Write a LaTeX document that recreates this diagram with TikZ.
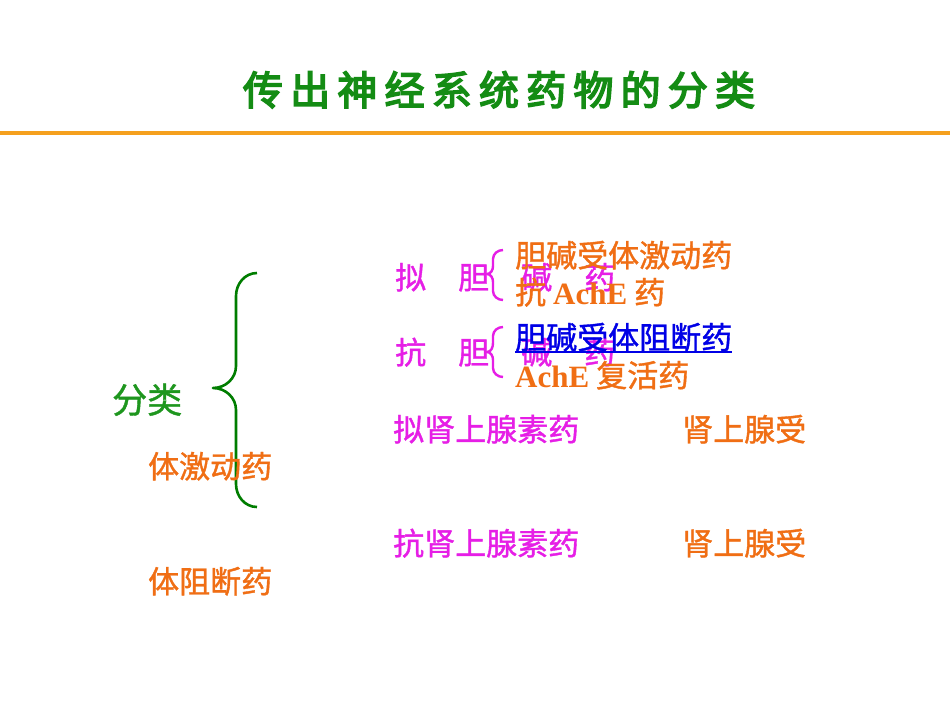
\documentclass[tikz,border=0pt]{standalone}
\usepackage{fontspec}
\setmainfont{Liberation Serif}
\newfontfamily\cjk{Noto Sans CJK SC}[FakeBold=1.2]
\newfontfamily\cjktitle{Noto Sans CJK SC}[FakeBold=4]
\definecolor{mag}{RGB}{230,30,230}
\definecolor{org}{RGB}{240,110,20}
\definecolor{rule}{RGB}{245,160,30}
\definecolor{ttl}{RGB}{20,140,20}
\definecolor{grn}{RGB}{30,150,30}
\definecolor{brc}{RGB}{0,125,0}
\definecolor{lnk}{RGB}{0,0,230}
\tikzset{
  txt/.style={inner sep=0pt, anchor=base west, font=\fontsize{31}{31}\selectfont\cjk},
  magtxt/.style={txt, text=mag},
  orgtxt/.style={txt, text=org},
  lnktxt/.style={txt, text=lnk},
  ttlchar/.style={inner sep=0pt, anchor=base, text=ttl, font=\fontsize{40}{40}\selectfont\cjktitle},
  bigbrace/.style={draw=brc, line width=2.6pt, line join=round},
  smallbrace/.style={draw=mag, line width=2.4pt, line join=round}
}
\begin{document}
\begin{tikzpicture}[x=1pt,y=-1pt]
\useasboundingbox[fill=white] (0,0) rectangle (950,713);
% title
\foreach \c [count=\i from 0] in {传,出,神,经,系,统,药,物,的,分,类}{
  \node[ttlchar] (t\i) at (263+47.2*\i,105) {\c};
}
\draw[draw=rule, line width=4pt] (0,133) -- (950,133);
% left
\node[txt, text=grn, font=\fontsize{35}{35}\selectfont\cjk] (fenlei) at (112,413) {分类};
\draw[bigbrace] (257,273) to[out=180,in=90] (236,296) -- (236,366) to[out=-90,in=0] (213,388)
  to[out=0,in=90] (236,410) -- (236,484) to[out=-90,in=180] (257,507);
% magenta spaced rows
\node[magtxt] (m1) at (395,289) {拟\hspace{32pt}胆\hspace{32pt}碱\hspace{32pt}药};
\node[magtxt] (m2) at (395,364) {抗\hspace{32pt}胆\hspace{32pt}碱\hspace{32pt}药};
\draw[smallbrace] (503,250) to[out=180,in=90] (493,259) -- (493,266) to[out=-90,in=0] (487,274)
  to[out=0,in=90] (493,282) -- (493,291) to[out=-90,in=180] (503,300);
\draw[smallbrace] (503,327) to[out=180,in=90] (493,336) -- (493,343) to[out=-90,in=0] (487,352)
  to[out=0,in=90] (493,360) -- (493,368) to[out=-90,in=180] (503,377);
% orange / blue sub items
\node[orgtxt] (o1) at (515,267) {胆碱受体激动药};
\node[orgtxt] (o2) at (515,304) {抗 {\rmfamily\bfseries AchE} 药};
\node[lnktxt] (b1) at (515,349) {胆碱受体阻断药};
\draw[draw=lnk, line width=1.6pt] ([yshift=-3pt]b1.base west) -- ([yshift=-3pt]b1.base east);
\node[orgtxt] (o3) at (515,387) {{\rmfamily\bfseries AchE} 复活药};
% adrenergic rows
\node[magtxt] (m3) at (393,441) {拟肾上腺素药};
\node[orgtxt] (o4) at (682,441) {肾上腺受};
\node[orgtxt] (o5) at (148,478) {体激动药};
\node[magtxt] (m4) at (393,555) {抗肾上腺素药};
\node[orgtxt] (o6) at (682,555) {肾上腺受};
\node[orgtxt] (o7) at (148,593) {体阻断药};
\end{tikzpicture}
\end{document}
